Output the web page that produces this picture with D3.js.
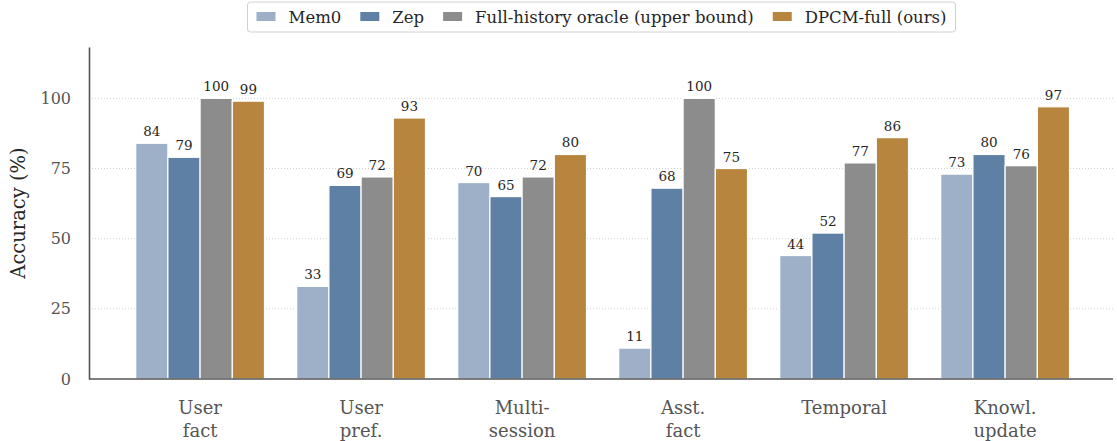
<!DOCTYPE html>
<html>
<head>
<meta charset="utf-8">
<script src="https://cdn.jsdelivr.net/npm/d3@7"></script>
<style>
  body { margin: 0; background: white; }
  text { font-family: "DejaVu Serif", serif; }
</style>
</head>
<body>
<div id="chart"></div>
<script>
'use strict';

// categories (x axis, two lines each)
const categories = [
  ["User", "fact"],
  ["User", "pref."],
  ["Multi-", "session"],
  ["Asst.", "fact"],
  ["Temporal"],
  ["Knowl.", "update"],
];

const seriesNames = ["Mem0", "Zep", "Full-history oracle (upper bound)", "DPCM-full (ours)"];
const mem0 = [84, 33, 70, 11, 44, 73];
const zep = [79, 69, 65, 68, 52, 80];
const oracle = [100, 72, 72, 100, 77, 76];
const dpcm = [99, 93, 80, 75, 86, 97];
const yTicks = [0, 25, 50, 75, 100];

const colors = ["#9db0c8", "#5f80a5", "#8c8c8c", "#b8853f"];
const series = [mem0, zep, oracle, dpcm];

const W = 1117, H = 441;
const margin = {top: 47, right: 4, bottom: 62, left: 89};
const barW = 0.2;

const svg = d3.select("#chart")
  .append("svg")
    .attr("width", W)
    .attr("height", H);

const x = d3.scaleLinear()
  .domain([-0.69, 5.67])
  .range([margin.left, W - margin.right]);

const y = d3.scaleLinear()
  .domain([0, 118.3])
  .range([H - margin.bottom, margin.top]);

// dotted grid
svg.append("g")
  .selectAll("line")
  .data(yTicks.filter(d => d > 0))
  .enter()
  .append("line")
    .attr("x1", margin.left)
    .attr("x2", W - margin.right)
    .attr("y1", d => y(d))
    .attr("y2", d => y(d))
    .attr("stroke", "#d0d0d0")
    .attr("stroke-width", 1)
    .attr("stroke-dasharray", "1,2");

// bars
series.forEach((vals, j) => {
  const g = svg.append("g");
  g.selectAll("rect")
    .data(vals)
    .enter()
    .append("rect")
      .attr("x", (d, i) => x(i + (j - 1.5) * barW - barW / 2))
      .attr("width", x(barW) - x(0))
      .attr("y", d => y(d))
      .attr("height", d => y(0) - y(d))
      .attr("fill", colors[j])
      .attr("stroke", "white")
      .attr("stroke-width", 1.2);

  g.selectAll("text")
    .data(vals)
    .enter()
    .append("text")
      .attr("x", (d, i) => x(i + (j - 1.5) * barW))
      .attr("y", d => y(d) - 7)
      .attr("text-anchor", "middle")
      .attr("font-size", 13.5)
      .attr("fill", "#262626")
      .text(d => d3.format(".0f")(d));
});

// y axis
const yAxis = svg.append("g")
  .attr("transform", `translate(${margin.left},0)`)
  .call(d3.axisLeft(y).tickValues(yTicks).tickSize(0).tickPadding(18));
yAxis.select(".domain").attr("stroke", "#555").attr("stroke-width", 1.6);
yAxis.selectAll("text").attr("font-size", 16).attr("fill", "#555")
  .attr("font-family", "DejaVu Serif, serif");

// x axis line
svg.append("line")
  .attr("x1", margin.left)
  .attr("x2", W - margin.right)
  .attr("y1", y(0))
  .attr("y2", y(0))
  .attr("stroke", "#555")
  .attr("stroke-width", 1.6);

// x tick labels
const xl = svg.append("g")
  .selectAll("text")
  .data(categories)
  .enter()
  .append("text")
    .attr("x", (d, i) => x(i))
    .attr("y", 414)
    .attr("text-anchor", "middle")
    .attr("font-size", 18)
    .attr("fill", "#555");
xl.selectAll("tspan")
  .data(d => d)
  .enter()
  .append("tspan")
    .attr("x", function() { return this.parentNode.getAttribute("x"); })
    .attr("dy", (d, i) => i === 0 ? 0 : 23)
    .text(d => d);

// y label
svg.append("text")
  .attr("transform", `translate(25,${(margin.top + y(0)) / 2}) rotate(-90)`)
  .attr("text-anchor", "middle")
  .attr("font-size", 19.5)
  .attr("fill", "#262626")
  .text("Accuracy (%)");

// legend
const legend = svg.append("g");
const box = legend.append("rect")
  .attr("y", 2)
  .attr("height", 30)
  .attr("rx", 3)
  .attr("fill", "white")
  .attr("stroke", "#d0d0d0");
let cx = 9;
seriesNames.forEach((name, j) => {
  legend.append("rect")
    .attr("x", cx)
    .attr("y", 12)
    .attr("width", 19)
    .attr("height", 9)
    .attr("fill", colors[j]);
  const t = legend.append("text")
    .attr("x", cx + 32)
    .attr("y", 23)
    .attr("font-size", 16.5)
    .attr("fill", "#262626")
    .text(name);
  cx += 32 + t.node().getComputedTextLength() + 19;
});
const lw = cx - 19 + 9;
box.attr("x", 0).attr("width", lw);
legend.attr("transform", `translate(${601.5 - lw / 2},0)`);
</script>
</body>
</html>
